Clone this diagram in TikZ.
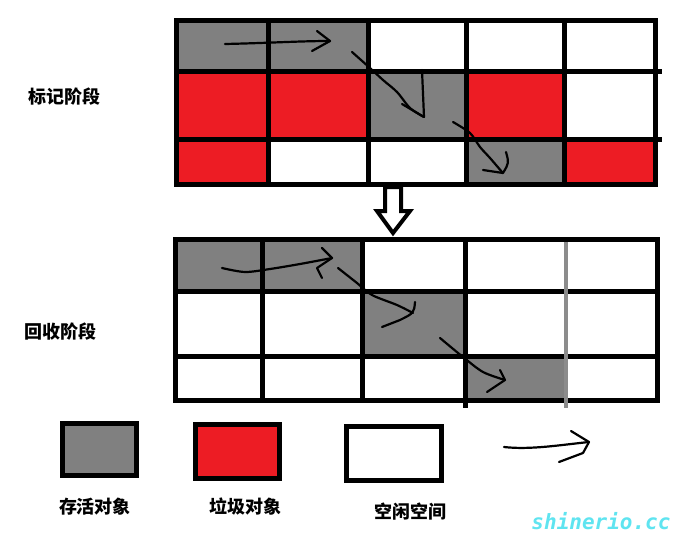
\documentclass[tikz,border=0pt]{standalone}
\usepackage{fontspec}
\newfontfamily\cjk{Noto Sans CJK SC}
\newfontfamily\wm{DejaVu Sans Mono}
\definecolor{live}{RGB}{128,128,128}
\definecolor{garb}{RGB}{237,28,36}
\definecolor{wmc}{RGB}{95,228,240}
\definecolor{gline}{RGB}{140,140,140}
\begin{document}
\begin{tikzpicture}[x=1pt,y=-1pt,
  grid/.style={line width=5pt},
  hand/.style={line width=2.2pt, line cap=round, line join=round},
  lbl/.style={font=\cjk\bfseries\fontsize{18}{20}\selectfont, inner sep=0},
  legbox/.style={draw, line width=5pt, inner sep=0}]
\useasboundingbox (0,0) rectangle (681,555);
% ---------- top grid (mark phase) ----------
\fill[live] (176.5,20.5) rectangle (368,71);
\fill[garb] (176.5,71) rectangle (368,139.5);
\fill[live] (368,71) rectangle (466,139.5);
\fill[garb] (466,71) rectangle (564.5,139.5);
\fill[garb] (176.5,139.5) rectangle (268,184.5);
\fill[live] (466,139.5) rectangle (564.5,184.5);
\fill[garb] (564.5,139.5) rectangle (655.5,184.5);
\draw[grid] (176.5,20.5) rectangle (655.5,184.5);
\draw[grid] (176.5,71) -- (662,71);
\draw[grid] (176.5,139.5) -- (662,139.5);
\foreach \x in {268,368,466,564.5} \draw[grid] (\x,20.5) -- (\x,187);
% ---------- hollow arrow ----------
\draw[line width=4pt, fill=white, line join=miter]
  (385,187) -- (401,187) -- (401,211) -- (410,211) -- (393,233) -- (377,211) -- (385,211) -- cycle;
% ---------- bottom grid (sweep phase) ----------
\fill[live] (175.5,239.5) rectangle (362.5,291);
\fill[live] (362.5,291) rectangle (465.5,356);
\fill[live] (465.5,356) rectangle (565.5,400.5);
\draw[grid] (175.5,239.5) rectangle (657.5,400.5);
\draw[grid] (175.5,291) -- (660,291);
\draw[grid] (175.5,356) -- (660,356);
\draw[grid] (262.5,239.5) -- (262.5,403);
\draw[grid] (362.5,239.5) -- (362.5,403);
\draw[grid] (465.5,239.5) -- (465.5,408);
\draw[line width=4pt, gline] (565.5,242) -- (565.5,408);
% ---------- hand-drawn arrows, top ----------
\draw[hand] (225,44) .. controls (270,43) and (300,41) .. (330,41);
\draw[hand] (317,31) -- (330,41) -- (312,51);
\draw[hand] plot[smooth] coordinates {(352,52) (370,68) (383,80) (397,92) (410,108) (424,117)};
\draw[hand] (422,70) -- (424,117) -- (402,104);
\draw[hand] plot[smooth] coordinates {(453,122) (470,133) (480,147) (490,158) (502,172)};
\draw[hand] (506,152) .. controls (509,163) .. (503,173) -- (483,170);
% ---------- hand-drawn arrows, bottom ----------
\draw[hand] plot[smooth] coordinates {(222,268) (245,272) (270,269) (300,264) (332,258)};
\draw[hand] (322,248) -- (332,258) -- (317,268) -- (322,278);
\draw[hand] plot[smooth] coordinates {(338,268) (357,283) (372,295) (397,305) (413,313)};
\draw[hand] (415,302) .. controls (414,313) .. (400,320) -- (382,327);
\draw[hand] plot[smooth] coordinates {(440,338) (463,357) (483,372) (505,380)};
\draw[hand] (500,370) -- (505,380) -- (487,392);
% ---------- phase labels ----------
\node[lbl] (mark) at (64,97) {标记阶段};
\node[lbl] (sweep) at (60,332) {回收阶段};
% ---------- legend ----------
\node[legbox, fill=live, minimum width=74pt, minimum height=52pt] (legLive) at (99.5,449.5) {};
\node[legbox, fill=garb, minimum width=84pt, minimum height=54pt] (legGarb) at (237.5,451.5) {};
\node[legbox, fill=white, minimum width=95pt, minimum height=54pt] (legFree) at (394,453.5) {};
\coordinate (legA) at (504,447);
\coordinate (legB) at (589,442);
\draw[hand] (legA) .. controls (530,450) and (560,445) .. (legB);
\draw[hand] (571,431) -- (legB) -- (583,453) -- (559,462);
\node[lbl] (tLive) at (95,507) {存活对象};
\node[lbl] (tGarb) at (245,507) {垃圾对象};
\node[lbl] (tFree) at (410,512) {空闲空间};
\node[font=\wm\fontsize{21}{21}\selectfont\bfseries\itshape, text=wmc, inner sep=0] (wmark) at (601,521) {shinerio.cc};
\end{tikzpicture}
\end{document}
